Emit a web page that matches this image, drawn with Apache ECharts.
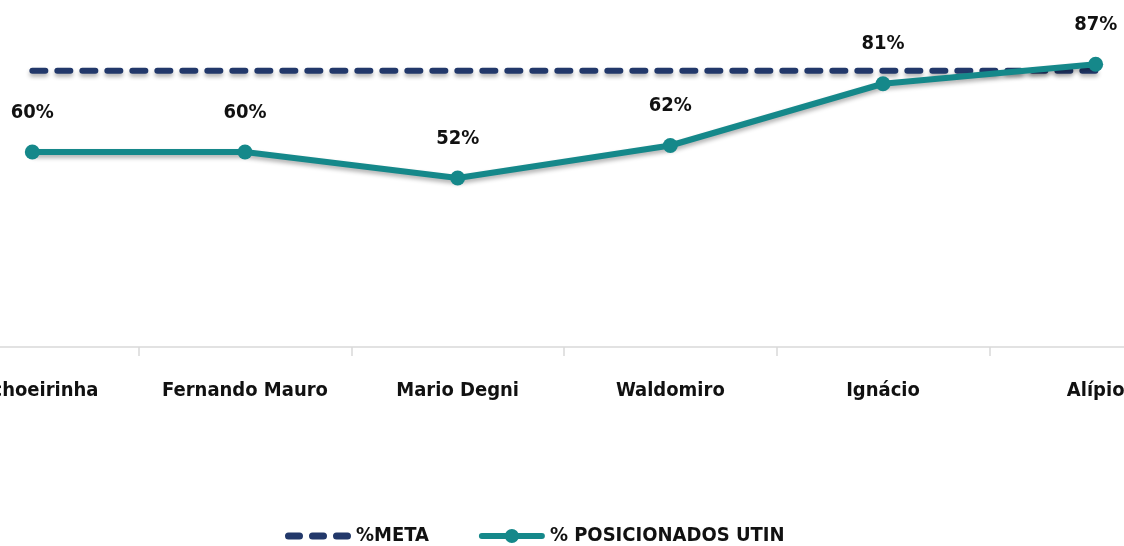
<!DOCTYPE html>
<html>
<head>
<meta charset="utf-8">
<script src="https://cdn.jsdelivr.net/npm/echarts@6/dist/echarts.min.js"></script>
<style>
html,body{margin:0;padding:0;background:#fff;}
#main{width:1124px;height:546px;}
</style>
</head>
<body>
<div id="main"></div>
<script>
// dados do gráfico
var unidades = ['Cachoeirinha', 'Fernando Mauro', 'Mario Degni', 'Waldomiro', 'Ignácio', 'Alípio'];
var meta = [85, 85, 85, 85, 85, 85];
var posicionados = [60, 60, 52, 62, 81, 87];

var fonte = "'Liberation Sans Narrow', 'DejaVu Sans Condensed', sans-serif";
var azul = '#22386a', verde = '#15888a';

// icones da legenda (traços e linha com círculo)
var pill = function (x, w) {
    return 'M' + (x + 3.5) + ',3.5 L' + (x + w - 3.5) + ',3.5 A3.5,3.5 0 0 1 ' + (x + w - 3.5) + ',10.5 L' +
        (x + 3.5) + ',10.5 A3.5,3.5 0 0 1 ' + (x + 3.5) + ',3.5 Z ';
};
var iconeMeta = 'path://M0,0 M66,14 ' + pill(0, 18) + pill(24, 18) + pill(48, 18);
var iconeUtin = 'path://M0,0 M66,14 M3,4 L27,4 L27,10 L3,10 A3,3 0 0 1 3,4 Z ' +
    'M39,4 L63,4 A3,3 0 0 1 63,10 L39,10 Z ' +
    'M26,7 A7,7 0 1 1 40,7 A7,7 0 1 1 26,7 Z';

var myChart = echarts.init(document.getElementById('main'));

var option = {
    backgroundColor: '#fff',
    animation: false,
    grid: {
        left: -74,
        right: -78,
        top: 22,
        bottom: 199,
        outerBoundsMode: 'none'
    },
    legend: {
        top: 521,
        left: 280,
        itemGap: 50,
        itemWidth: 66,
        itemHeight: 14,
        textStyle: { fontFamily: fonte, fontWeight: 'bold', fontSize: 20, color: '#111' },
        data: [
            { name: '%META', icon: iconeMeta, itemStyle: { color: azul } },
            { name: '% POSICIONADOS UTIN', icon: iconeUtin, itemStyle: { color: verde } }
        ]
    },
    xAxis: {
        type: 'category',
        data: unidades,
        boundaryGap: true,
        axisLine: { lineStyle: { color: '#d9d9d9', width: 1.5 } },
        axisTick: { show: true, length: 9, lineStyle: { color: '#d9d9d9', width: 1.5 } },
        axisLabel: { interval: 0, margin: 34, fontFamily: fonte, fontWeight: 'bold', fontSize: 20, color: '#111' }
    },
    yAxis: {
        type: 'value',
        min: 0,
        max: 100,
        show: false,
        splitLine: { show: false }
    },
    series: [
        {
            name: '%META',
            type: 'line',
            data: meta,
            symbol: 'none',
            color: azul,
            lineStyle: {
                color: azul,
                width: 6,
                type: [13, 12],
                cap: 'round',
                shadowColor: 'rgba(0,0,0,0.3)',
                shadowBlur: 4,
                shadowOffsetY: 3
            },
            z: 2
        },
        {
            name: '% POSICIONADOS UTIN',
            type: 'line',
            data: posicionados,
            symbol: 'circle',
            symbolSize: 15,
            color: verde,
            lineStyle: {
                color: verde,
                width: 6,
                shadowColor: 'rgba(0,0,0,0.3)',
                shadowBlur: 4,
                shadowOffsetY: 3
            },
            itemStyle: { color: verde },
            label: {
                show: true,
                position: 'top',
                distance: 22,
                formatter: '{c}%',
                fontFamily: fonte,
                fontWeight: 'bold',
                fontSize: 20,
                color: '#111'
            },
            z: 3
        }
    ]
};

myChart.setOption(option);
</script>
</body>
</html>
